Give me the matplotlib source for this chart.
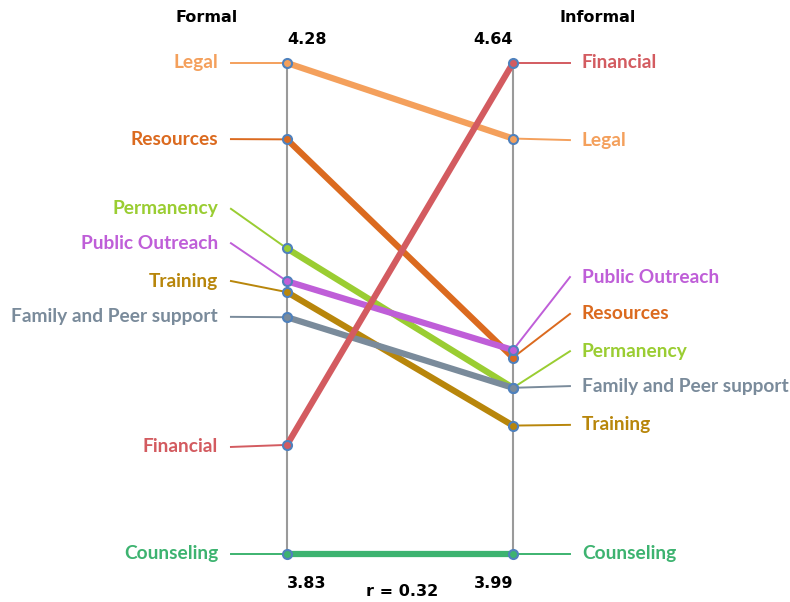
import matplotlib
matplotlib.use("Agg")
import matplotlib.pyplot as plt

categories = ["Legal", "Resources", "Permanency", "Public Outreach", "Training",
              "Family and Peer support", "Financial", "Counseling"]
formal = [4.28, 4.21, 4.11, 4.08, 4.07, 4.047, 3.93, 3.83]
informal = [4.54, 4.25, 4.21, 4.26, 4.16, 4.21, 4.64, 3.99]
colors = ["#F4A05C", "#DB6A1F", "#9ACD32", "#BF5ED8", "#B8860B",
          "#7A8B9B", "#D35B60", "#3DB370"]
axis_titles = ["Formal", "Informal"]
r_text = "r = 0.32"

# label positions (0..1 along each axis) after spreading out the crowded ones
left_label_y = [1.0, 0.845, 0.703, 0.633, 0.556, 0.483, 0.218, 0.0]
right_label_y = [0.843, 0.489, 0.413, 0.564, 0.263, 0.342, 1.0, 0.0]

fmin, fmax = min(formal), max(formal)
imin, imax = min(informal), max(informal)
fy = [(v - fmin) / (fmax - fmin) for v in formal]
iy = [(v - imin) / (imax - imin) for v in informal]

fig = plt.figure(figsize=(7.9, 6.02), dpi=100)
ax = fig.add_axes([0, 0, 1, 1])
ax.set_xlim(-287 / 226, 503 / 226)
ax.set_ylim(-48 / 491, 554 / 491)
ax.axis("off")

lab_font = dict(family="Lato", fontweight="bold", fontsize=13.8)
hdr_font = dict(family="DejaVu Sans", fontweight="bold", fontsize=11.5)

ax.plot([0, 0], [0, 1], color="#9A9A9A", lw=1.5, zorder=1)
ax.plot([1, 1], [0, 1], color="#9A9A9A", lw=1.5, zorder=1)

for i, cat in enumerate(categories):
    c = colors[i]
    ax.plot([0, 1], [fy[i], iy[i]], color=c, lw=4.5, solid_capstyle="butt", zorder=2 + i * 0.1)
    ax.plot([-0.248, 0], [left_label_y[i], fy[i]], color=c, lw=1.4, zorder=2)
    ax.plot([1, 1.252], [iy[i], right_label_y[i]], color=c, lw=1.4, zorder=2)
    ax.text(-0.305, left_label_y[i], cat, color=c, ha="right", va="center", **lab_font)
    ax.text(1.305, right_label_y[i], cat, color=c, ha="left", va="center", **lab_font)
    ax.plot([0, 1], [fy[i], iy[i]], ls="none", marker="o", ms=6.5, mfc=c,
            mec="#4F81BD", mew=1.5, zorder=5)

ax.text(-80 / 226, 537 / 491, axis_titles[0], ha="center", va="center", **hdr_font)
ax.text(311 / 226, 537 / 491, axis_titles[1], ha="center", va="center", **hdr_font)
ax.text(0, 514 / 491, f"{fmax:.2f}", ha="left", va="center", **hdr_font)
ax.text(1, 514 / 491, f"{imax:.2f}", ha="right", va="center", **hdr_font)
ax.text(0, -29 / 491, f"{fmin:.2f}", ha="left", va="center", **hdr_font)
ax.text(1, -29 / 491, f"{imin:.2f}", ha="right", va="center", **hdr_font)
ax.text(115 / 226, -38 / 491, r_text, ha="center", va="center", **hdr_font)

fig.savefig("out.png", dpi=100)
